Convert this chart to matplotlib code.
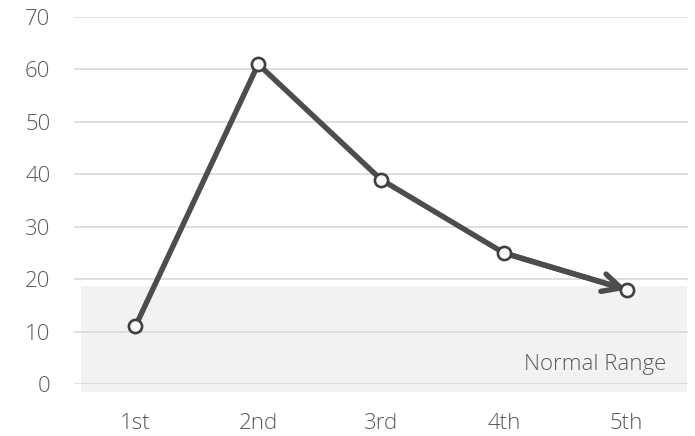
import matplotlib.pyplot as plt
import matplotlib.patches as patches

# data
labels = ["1st", "2nd", "3rd", "4th", "5th"]
values = [11, 61, 39, 25, 18]
normal_low = -1.5
normal_high = 18.7

plt.rcParams['font.family'] = ['Open Sans', 'DejaVu Sans']

fig = plt.figure(figsize=(6.95, 4.36), dpi=100)
ax = fig.add_axes([74 / 695, 1 - 384 / 436, (688 - 74) / 695, (384 - 17) / 436])

x = list(range(len(labels)))

# shaded normal range band
band = patches.Rectangle((-0.44, normal_low), 4.93, normal_high - normal_low,
                         facecolor="#f2f2f2", edgecolor="none", zorder=0, clip_on=False)
ax.add_patch(band)

ax.set_ylim(0, 70)
ax.set_xlim(-0.5, 4.5)
ax.set_yticks(range(0, 71, 10))
ax.set_xticks(x)
ax.set_xticklabels(labels)
ax.yaxis.grid(True, color="#d9d9d9", lw=1.2, zorder=1)
ax.set_axisbelow(True)
for s in ax.spines.values():
    s.set_visible(False)
ax.tick_params(length=0, labelsize=16, labelcolor="#595959")
for lab in ax.get_xticklabels() + ax.get_yticklabels():
    lab.set_fontweight("light")
ax.tick_params(axis="y", pad=17)
ax.tick_params(axis="x", pad=21)

ax.plot(x, values, color="#4d4d4d", lw=3.9, zorder=3, solid_capstyle="round",
        solid_joinstyle="round")
ax.annotate("", xy=(x[-1], values[-1]), xytext=(x[-2], values[-2]),
            arrowprops=dict(arrowstyle="->,head_length=1.3,head_width=0.65",
                            color="#4d4d4d", lw=3.9, shrinkA=0, shrinkB=0,
                            capstyle="round", joinstyle="round"), zorder=3)
ax.plot(x, values, ls="none", marker="o", ms=9.5, mfc="#f7f7f7", mec="#404040",
        mew=1.9, zorder=4)

ax.text(4.32, 3.8, "Normal Range", ha="right", va="center", fontsize=16,
        fontweight="light", color="#595959")

fig.savefig("out.png", dpi=100)
